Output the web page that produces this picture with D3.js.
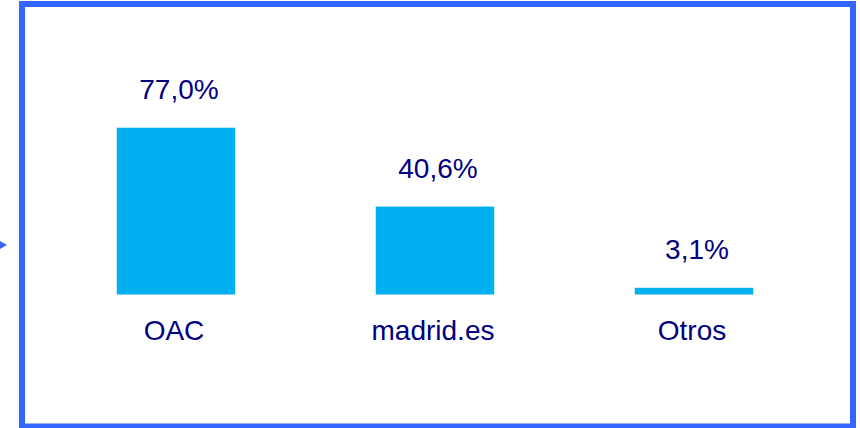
<!DOCTYPE html>
<html>
<head>
<meta charset="utf-8">
<script src="https://cdn.jsdelivr.net/npm/d3@7"></script>
<style>
  html, body { margin: 0; padding: 0; background: #fff; }
  svg { display: block; }
</style>
</head>
<body>
<svg id="chart" width="860" height="428"></svg>
<script>
const categories = ["OAC", "madrid.es", "Otros"];
const values = [77.0, 40.6, 3.1];
const valueLabels = ["77,0%", "40,6%", "3,1%"];

const svg = d3.select("#chart");
const navy = "#000080";
const barColor = "#00B0F0";
const frame = "#3366FF";

// frame
svg.append("rect")
  .attr("x", 22).attr("y", 4)
  .attr("width", 831).attr("height", 422.5)
  .attr("fill", "#fff")
  .attr("stroke", frame)
  .attr("stroke-width", 6);

// small arrow marker at left
svg.append("path")
  .attr("d", "M0,241 L7,245 L0,249 Z")
  .attr("fill", frame);

const baseline = 294.5;
const y = d3.scaleLinear().domain([0, 77]).range([baseline, 127.7]);
const p = 0.5425;
const x = d3.scaleBand().domain(categories).range([46.5, 823.5])
  .paddingInner(p).paddingOuter(p / 2);

const g = svg.append("g");
g.selectAll("rect.bar").data(categories).join("rect")
  .attr("class", "bar")
  .attr("x", d => x(d))
  .attr("width", x.bandwidth())
  .attr("y", (d, i) => y(values[i]))
  .attr("height", (d, i) => baseline - y(values[i]))
  .attr("fill", barColor);

g.selectAll("text.val").data(categories).join("text")
  .attr("class", "val")
  .attr("x", d => x(d) + x.bandwidth() / 2 + 3)
  .attr("y", (d, i) => y(values[i]) - 29)
  .attr("text-anchor", "middle")
  .attr("font-family", "Liberation Sans, Arial, sans-serif")
  .attr("font-size", 28)
  .attr("fill", navy)
  .text((d, i) => valueLabels[i]);

g.selectAll("text.cat").data(categories).join("text")
  .attr("class", "cat")
  .attr("x", d => x(d) + x.bandwidth() / 2 - 2)
  .attr("y", 340)
  .attr("text-anchor", "middle")
  .attr("font-family", "Liberation Sans, Arial, sans-serif")
  .attr("font-size", 28)
  .attr("fill", navy)
  .text(d => d);
</script>
</body>
</html>
